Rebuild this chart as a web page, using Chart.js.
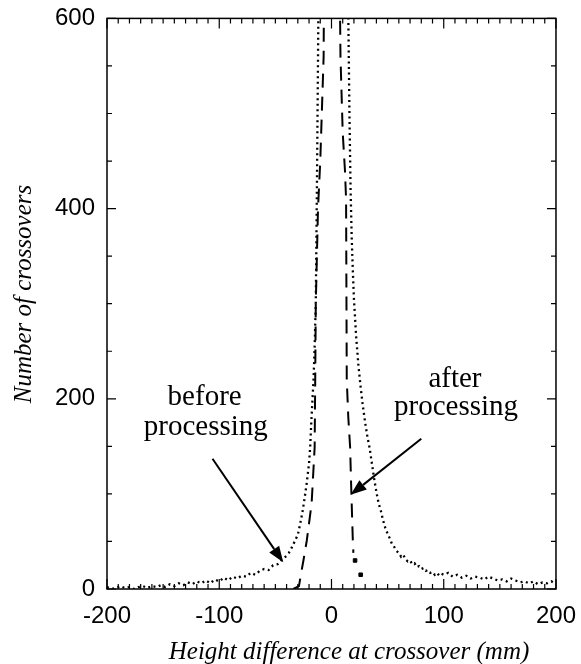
<!DOCTYPE html>
<html>
<head>
<meta charset="utf-8">
<script src="https://cdn.jsdelivr.net/npm/chart.js@4/dist/chart.umd.min.js"></script>
<style>
  html, body { margin: 0; padding: 0; background: #fff; }
  #wrap { width: 581px; height: 664px; }
</style>
</head>
<body>
<div id="wrap"><canvas id="xoverChart" width="581" height="664"></canvas></div>
<script>
// Histogram of crossover height differences
const beforeX = [-200, -196, -192, -188, -184, -180, -176, -172, -168, -164, -160, -156, -152, -148, -144, -140,
    -136, -132, -128, -124, -120, -116, -112, -108, -104, -100, -96, -92, -88, -84, -80, -76, -72, -68, -64, -60,
    -56, -52, -48, -44, -40, -38, -36, -34, -32, -30, -28, -26, -24, -22, -20, -19, -18, -17, -16, -15, -14, -13,
    -12, -11, -8, 0, 8, 12, 14, 15, 16, 17, 18, 19, 20, 22, 24, 26, 28, 30, 32, 34, 36, 38, 40, 42, 44, 46, 48, 50,
    52, 54, 56, 58, 60, 62, 64, 66, 68, 70, 72, 74, 76, 78, 80, 82, 84, 86, 88, 90, 92, 94, 96, 98, 100, 104, 108,
    112, 116, 120, 124, 128, 132, 136, 140, 144, 148, 152, 156, 160, 164, 168, 172, 176, 180, 184, 188, 192, 196, 200];
const beforeY = [2, 0, 1, 3, 1, 2, 0, 2, 3, 1, 3, 2, 4, 2, 5, 3,
    6, 4, 7, 5, 8, 6, 9, 6, 10, 8, 12, 9, 13, 11, 14, 13, 17, 15, 19, 21,
    20, 25, 26, 31, 35, 38, 42, 47, 52, 57, 68, 80, 95, 112, 132, 149, 175, 198, 220, 255, 300, 420,
    560, 700, 1100, 1500, 1300, 900, 700, 600, 500, 420, 370, 335, 305, 265, 235, 212, 192, 175, 160, 148, 132, 116, 102, 90, 82, 72, 64, 58,
    53, 47, 44, 40, 38, 34, 36, 31, 29, 30, 26, 27, 23, 24, 21, 22, 19, 20, 17, 18, 15, 17, 14, 16, 15, 17, 13,
    15, 12, 14, 11, 13, 12, 10, 13, 11, 9, 10, 8, 11, 9, 7, 8, 6, 8, 5, 7, 6, 8, 5];

const afterX = [-34, -29, -27, -25, -22, -17.7, -15, -14.5, -14, -12, -10, -7, -6, 0, 6, 8, 10, 12, 13, 13.6, 15, 16.6, 17.5, 18, 19, 19.5];
const afterY = [0, 3, 17, 30, 51, 90, 149, 219, 300, 400, 450, 560, 800, 1300, 800, 560, 480, 440, 410, 220, 180, 149, 110, 90, 51, 38];

// isolated square points at the foot of the "after" curve
const afterTailX = [21, 26];
const afterTailY = [30, 15];

const xTicks = [-200, -100, 0, 100, 200];
const yTicks = [0, 200, 400, 600];

function toPoints(xs, ys) {
    return xs.map((x, i) => ({ x: x, y: ys[i] }));
}

// Inward ticks on all four sides + frame, labels, arrows, titles
const framePlugin = {
    id: 'framePlugin',
    afterDatasetsDraw(chart) {
        const ctx = chart.ctx;
        const a = chart.chartArea;
        const xs = chart.scales.x;
        const ys = chart.scales.y;

        ctx.save();
        ctx.strokeStyle = '#000';
        ctx.lineWidth = 1.5;
        ctx.strokeRect(a.left, a.top, a.right - a.left, a.bottom - a.top);

        ctx.lineWidth = 1.2;
        ctx.beginPath();
        for (let v = -200; v <= 200; v += 10) {
            const px = xs.getPixelForValue(v);
            const len = (v % 100 === 0) ? 10 : 5;
            ctx.moveTo(px, a.bottom); ctx.lineTo(px, a.bottom - len);
            ctx.moveTo(px, a.top); ctx.lineTo(px, a.top + len);
        }
        for (let v = 0; v <= 600; v += 50) {
            const py = ys.getPixelForValue(v);
            const len = (v % 200 === 0) ? 9 : 5;
            ctx.moveTo(a.left, py); ctx.lineTo(a.left + len, py);
            ctx.moveTo(a.right, py); ctx.lineTo(a.right - len, py);
        }
        ctx.stroke();

        // annotations
        ctx.fillStyle = '#000';
        ctx.font = "29px 'Liberation Serif', 'Times New Roman', serif";
        ctx.textAlign = 'center';
        ctx.textBaseline = 'alphabetic';
        ctx.fillText('before', xs.getPixelForValue(-113), ys.getPixelForValue(193));
        ctx.fillText('processing', xs.getPixelForValue(-112), ys.getPixelForValue(161.5));
        ctx.fillText('after', xs.getPixelForValue(110), ys.getPixelForValue(212));
        ctx.fillText('processing', xs.getPixelForValue(111), ys.getPixelForValue(182.5));

        drawArrow(ctx, xs.getPixelForValue(-106), ys.getPixelForValue(137), xs.getPixelForValue(-43), ys.getPixelForValue(28));
        drawArrow(ctx, xs.getPixelForValue(80), ys.getPixelForValue(158), xs.getPixelForValue(17), ys.getPixelForValue(99));

        // axis titles
        ctx.font = "italic 25px 'Liberation Serif', 'Times New Roman', serif";
        ctx.textAlign = 'center';
        ctx.fillText('Height difference at crossover (mm)', a.left + 242, a.bottom + 70);

        ctx.translate(31, 294);
        ctx.rotate(-Math.PI / 2);
        ctx.fillText('Number of crossovers', 0, 0);
        ctx.restore();
    }
};

function drawArrow(ctx, x1, y1, x2, y2) {
    const ang = Math.atan2(y2 - y1, x2 - x1);
    const head = 16, half = 6;
    const bx = x2 - head * Math.cos(ang), by = y2 - head * Math.sin(ang);
    ctx.beginPath();
    ctx.lineWidth = 2;
    ctx.moveTo(x1, y1);
    ctx.lineTo(bx, by);
    ctx.stroke();
    ctx.beginPath();
    ctx.moveTo(x2, y2);
    ctx.lineTo(bx + half * Math.sin(ang), by - half * Math.cos(ang));
    ctx.lineTo(bx - half * Math.sin(ang), by + half * Math.cos(ang));
    ctx.closePath();
    ctx.fill();
}

new Chart(document.getElementById('xoverChart'), {
    type: 'line',
    data: {
        datasets: [
            {
                label: 'before processing',
                data: toPoints(beforeX, beforeY),
                borderColor: '#000',
                borderWidth: 2.3,
                borderDash: [2, 3.5],
                pointRadius: 0,
                tension: 0,
                fill: false
            },
            {
                label: 'after processing',
                data: toPoints(afterX, afterY),
                borderColor: '#000',
                borderWidth: 2,
                borderDash: [14, 9],
                pointRadius: 0,
                tension: 0,
                fill: false
            },
            {
                label: 'after tail',
                type: 'scatter',
                data: toPoints(afterTailX, afterTailY),
                pointStyle: 'rect',
                pointRadius: 2.5,
                backgroundColor: '#000',
                borderColor: '#000',
                showLine: false
            }
        ]
    },
    options: {
        responsive: false,
        animation: false,
        layout: { padding: { top: 17, right: 23, left: 0, bottom: 0 } },
        plugins: {
            legend: { display: false },
            tooltip: { enabled: false }
        },
        scales: {
            x: {
                type: 'linear',
                min: -200,
                max: 200,
                afterFit: function(scale) { scale.height = 75; },
                afterBuildTicks: function(scale) { scale.ticks = xTicks.map(v => ({ value: v })); },
                grid: { display: false },
                border: { display: false },
                ticks: {
                    color: '#000',
                    padding: 5,
                    maxRotation: 0,
                    font: { family: "'Liberation Sans', Arial, sans-serif", size: 24 }
                }
            },
            y: {
                min: 0,
                max: 600,
                afterFit: function(scale) { scale.width = 107; },
                afterBuildTicks: function(scale) { scale.ticks = yTicks.map(v => ({ value: v })); },
                grid: { display: false },
                border: { display: false },
                ticks: {
                    color: '#000',
                    padding: 4,
                    font: { family: "'Liberation Sans', Arial, sans-serif", size: 24 }
                }
            }
        }
    },
    plugins: [framePlugin]
});
</script>
</body>
</html>
